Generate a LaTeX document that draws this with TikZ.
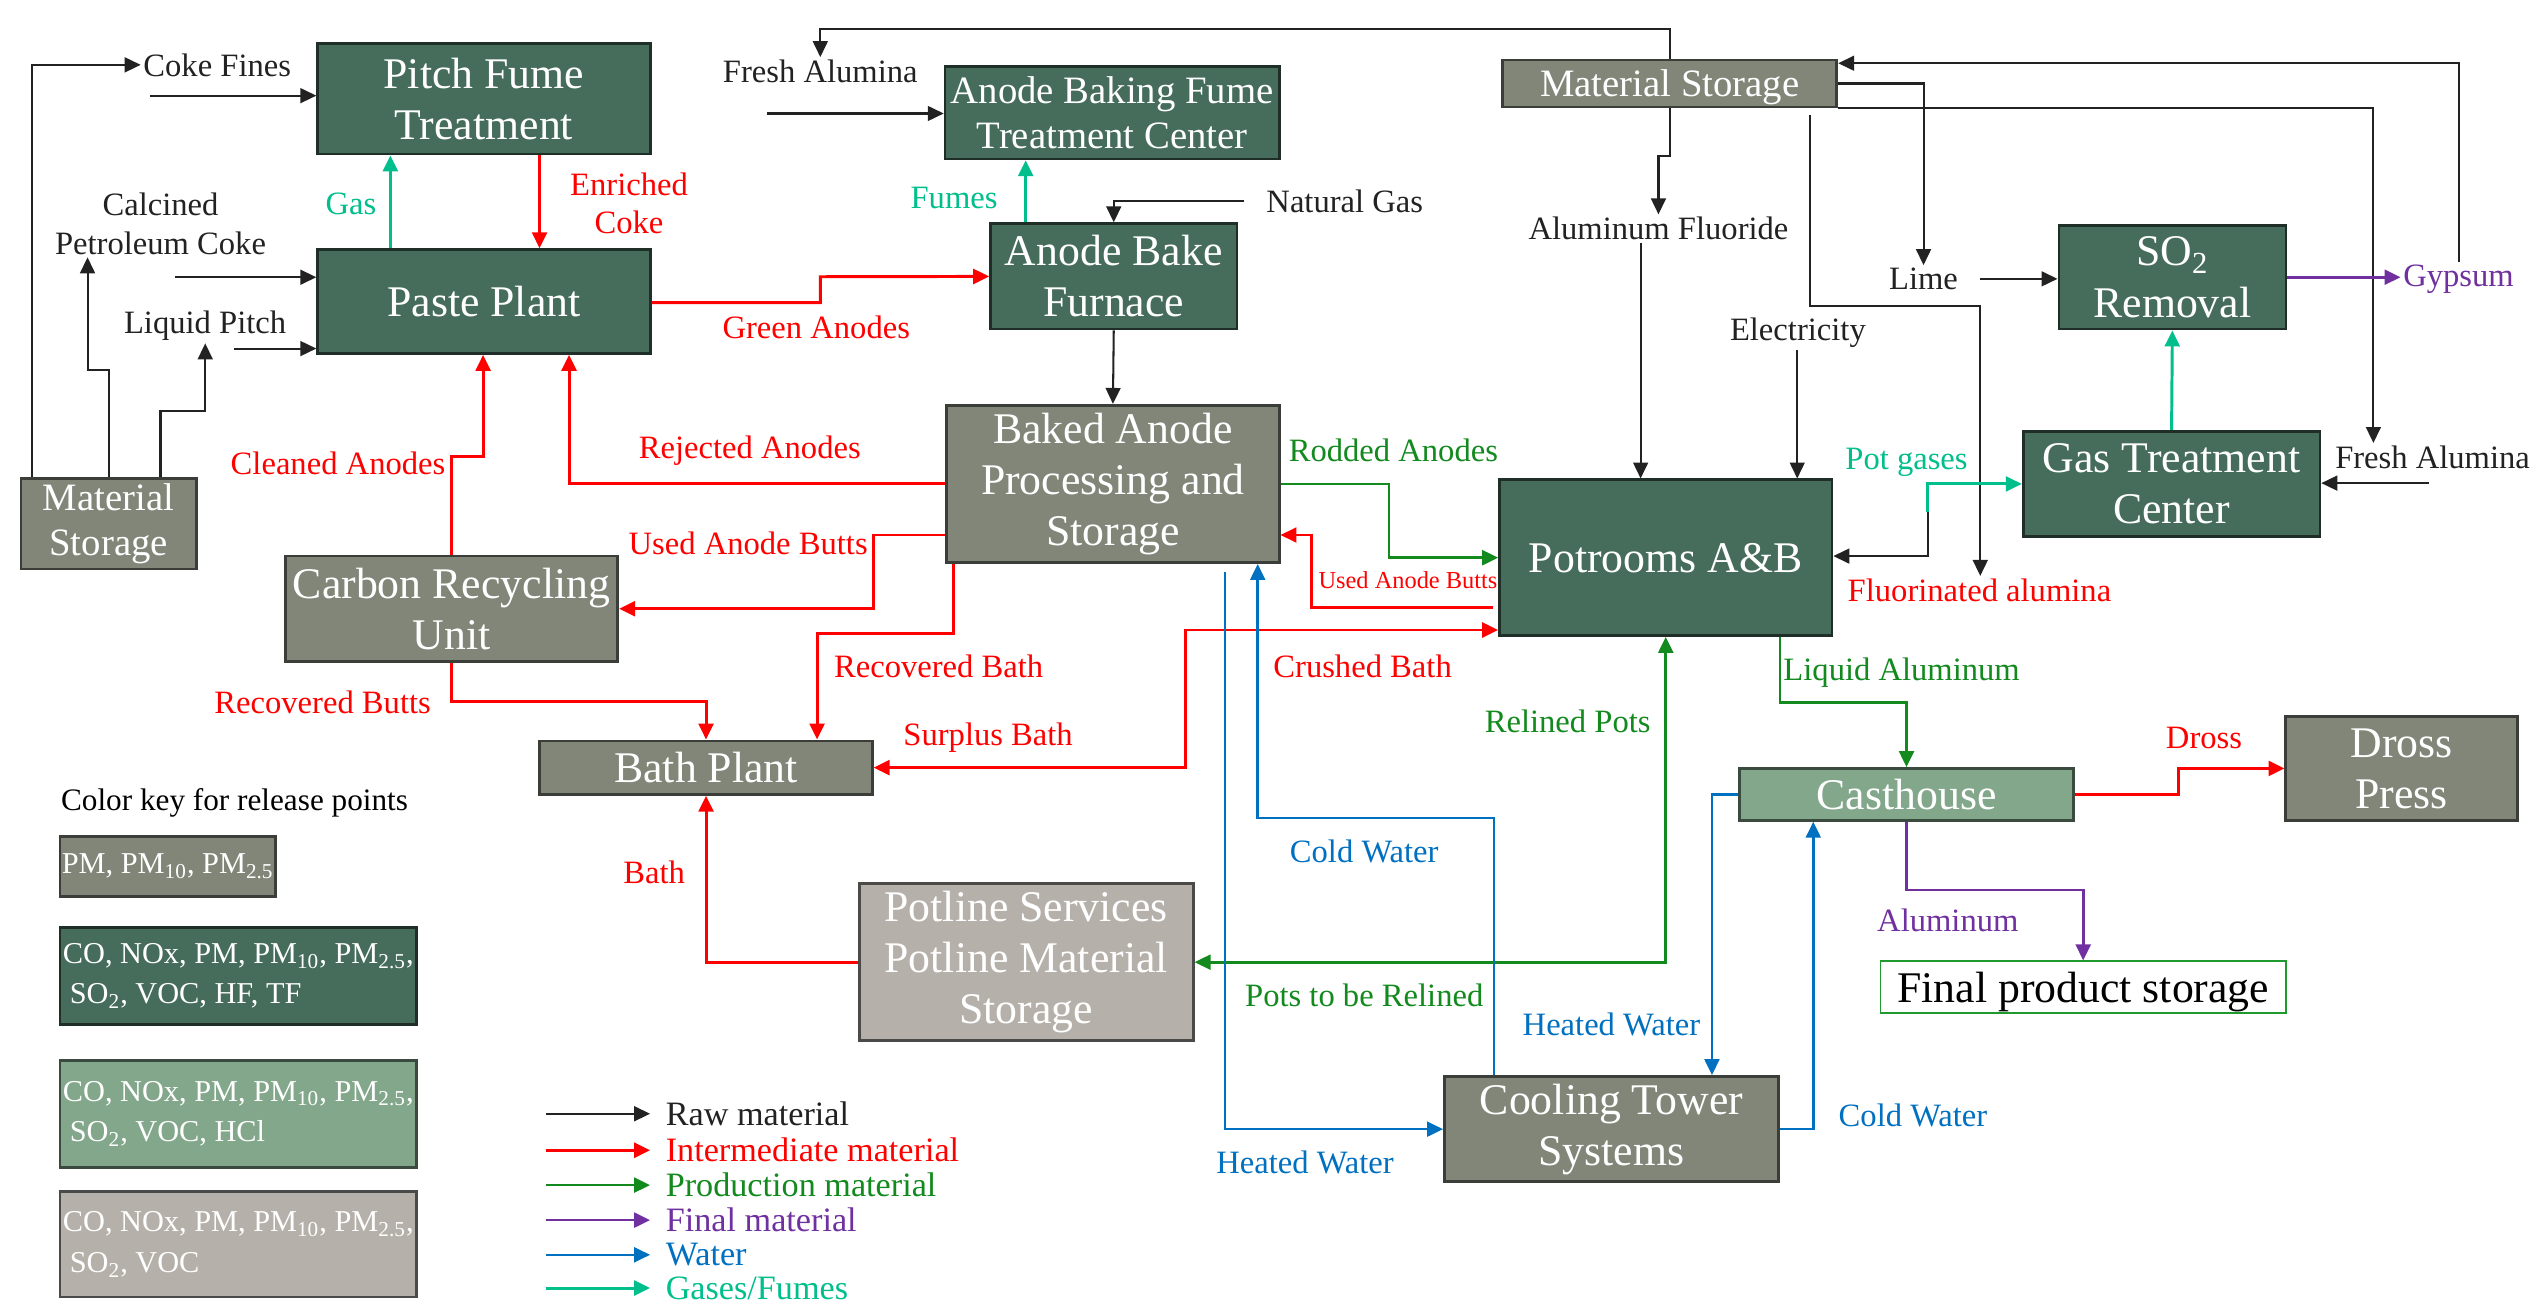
\documentclass[tikz,border=0pt]{standalone}
\usepackage{fontspec}
\setmainfont{Liberation Serif}
\usetikzlibrary{arrows.meta,calc}
\definecolor{dgf}{HTML}{466D5C}
\definecolor{dgb}{HTML}{1F2F27}
\definecolor{grf}{HTML}{828679}
\definecolor{grb}{HTML}{3A3D38}
\definecolor{mgf}{HTML}{83A78B}
\definecolor{mgb}{HTML}{3A4A3E}
\definecolor{lgf}{HTML}{B5B1AA}
\definecolor{lgb}{HTML}{4A4A48}
\definecolor{cred}{HTML}{FF0000}
\definecolor{cgreen}{HTML}{128A1E}
\definecolor{cpurple}{HTML}{7030A0}
\definecolor{cblue}{HTML}{0070C0}
\definecolor{cteal}{HTML}{00BF8C}
\definecolor{craw}{HTML}{222222}
\definecolor{fpsb}{HTML}{1E9A2E}
\newcommand\myBig{\fontsize{19.2pt}{22.4pt}\selectfont}
\newcommand\myMid{\fontsize{17pt}{19.6pt}\selectfont}
\newcommand\myLbl{\fontsize{14.3pt}{17pt}\selectfont}
\newcommand\mySml{\fontsize{10.7pt}{13pt}\selectfont}
\newcommand\myKey{\fontsize{13.3pt}{17.8pt}\selectfont}
\newcommand\myLeg{\fontsize{15pt}{18pt}\selectfont}
\begin{document}
\begin{tikzpicture}[x=0.025cm,y=-0.025cm,
  bx/.style={line width=1.2pt, inner sep=0pt, align=center, text=white, font=\myBig},
  dg/.style={bx, draw=dgb, fill=dgf},
  gr/.style={bx, draw=grb, fill=grf},
  mg/.style={bx, draw=mgb, fill=mgf},
  lg/.style={bx, draw=lgb, fill=lgf},
  lbl/.style={inner sep=1pt, align=center, font=\myLbl},
  arrowhd/.style={-{Triangle[length=7pt,width=6.5pt]}},
  twohd/.style={{Triangle[length=7pt,width=6.5pt]}-{Triangle[length=7pt,width=6.5pt]}},
  cRaw/.style={arrowhd, draw=craw, line width=0.9pt},
  cInt/.style={arrowhd, draw=cred, line width=1.3pt},
  cProd/.style={arrowhd, draw=cgreen, line width=1.2pt},
  cFin/.style={arrowhd, draw=cpurple, line width=1.2pt},
  cWat/.style={arrowhd, draw=cblue, line width=1.1pt},
  cGas/.style={arrowhd, draw=cteal, line width=1.3pt}
]
\useasboundingbox (0,0) rectangle (1568,804);
\fill[white] (0,0) rectangle (1568,804);

% ---------- boxes ----------
\node[dg, minimum width=5.125cm, minimum height=1.7cm] (pft) at (298.5,61) {Pitch Fume\\Treatment};
\node[dg, minimum width=5.125cm, minimum height=1.6cm] (paste) at (298.5,186) {Paste Plant};
\node[dg, font=\myMid, minimum width=5.15cm, minimum height=1.425cm] (abf) at (686,69.5) {Anode Baking Fume\\Treatment Center};
\node[dg, minimum width=3.8cm, minimum height=1.625cm] (abfur) at (687,170.5) {Anode Bake\\Furnace};
\node[gr, minimum width=5.125cm, minimum height=2.425cm] (bap) at (686.5,298.5) {Baked Anode\\Processing and\\Storage};
\node[dg, minimum width=5.125cm, minimum height=2.4cm] (pot) at (1027.5,344) {Potrooms A\&B};
\node[gr, font=\myMid, text depth=0pt, minimum width=5.15cm, minimum height=0.725cm] (mst) at (1030,51.5) {Material Storage};
\node[dg, minimum width=3.5cm, minimum height=1.6cm] (so2) at (1340,171) {SO\textsubscript{2}\\Removal};
\node[dg, minimum width=4.575cm, minimum height=1.625cm] (gtc) at (1339.5,298.5) {Gas Treatment\\Center};
\node[gr, font=\myMid, minimum width=2.7cm, minimum height=1.4cm] (msl) at (67,323) {Material\\Storage};
\node[gr, minimum width=5.125cm, minimum height=1.625cm] (cru) at (278.5,375.5) {Carbon Recycling\\Unit};
\node[gr, minimum width=5.125cm, minimum height=0.825cm] (bath) at (435.5,473.5) {Bath Plant};
\node[lg, minimum width=5.15cm, minimum height=2.425cm] (pls) at (633,593.5) {Potline Services\\Potline Material\\Storage};
\node[gr, minimum width=5.15cm, minimum height=1.625cm] (ct) at (994,696.5) {Cooling Tower\\Systems};
\node[mg, minimum width=5.15cm, minimum height=0.8cm] (cast) at (1176,490) {Casthouse};
\node[gr, minimum width=3.575cm, minimum height=1.6cm] (dross) at (1481.5,474) {Dross\\Press};
\node[bx, draw=fpsb, fill=white, text=black, text depth=0pt, line width=0.8pt, minimum width=6.25cm, minimum height=0.8cm] (fps) at (1285,609) {Final product storage};

% ---------- colour key ----------
\node[lbl, anchor=west, font=\fontsize{13.7pt}{16pt}\selectfont] (ckey) at (36,495) {Color key for release points};
\node[gr, font=\myKey, minimum width=3.325cm, minimum height=0.925cm] (key1) at (103.5,534.5) {PM, PM\textsubscript{10}, PM\textsubscript{2.5}};
\node[dg, font=\myKey, align=left, minimum width=5.5cm, minimum height=1.5cm] (key2) at (147,602) {CO, NOx, PM, PM\textsubscript{10}, PM\textsubscript{2.5},\\\hspace*{3pt}SO\textsubscript{2}, VOC, HF, TF};
\node[mg, font=\myKey, align=left, minimum width=5.5cm, minimum height=1.65cm] (key3) at (147,687) {CO, NOx, PM, PM\textsubscript{10}, PM\textsubscript{2.5},\\\hspace*{3pt}SO\textsubscript{2}, VOC, HCl};
\node[lg, font=\myKey, align=left, minimum width=5.5cm, minimum height=1.625cm] (key4) at (147,767.5) {CO, NOx, PM, PM\textsubscript{10}, PM\textsubscript{2.5},\\\hspace*{3pt}SO\textsubscript{2}, VOC};

% ---------- arrow legend ----------
\node[lbl, anchor=west, font=\myLeg, text=craw] (lg1) at (409,687) {Raw material};
\node[lbl, anchor=west, font=\myLeg, text=cred] (lg2) at (409,709.5) {Intermediate material};
\node[lbl, anchor=west, font=\myLeg, text=cgreen] (lg3) at (409,731) {Production material};
\node[lbl, anchor=west, font=\myLeg, text=cpurple] (lg4) at (409,752.6) {Final material};
\node[lbl, anchor=west, font=\myLeg, text=cblue] (lg5) at (409,774) {Water};
\node[lbl, anchor=west, font=\myLeg, text=cteal] (lg6) at (409,794.5) {Gases/Fumes};
\draw[cRaw]  ($(lg1.west)+(-72,0)$) -- ($(lg1.west)+(-8,0)$);
\draw[cInt]  ($(lg2.west)+(-72,0)$) -- ($(lg2.west)+(-8,0)$);
\draw[cProd] ($(lg3.west)+(-72,0)$) -- ($(lg3.west)+(-8,0)$);
\draw[cFin]  ($(lg4.west)+(-72,0)$) -- ($(lg4.west)+(-8,0)$);
\draw[cWat]  ($(lg5.west)+(-72,0)$) -- ($(lg5.west)+(-8,0)$);
\draw[cGas]  ($(lg6.west)+(-72,0)$) -- ($(lg6.west)+(-8,0)$);

% ---------- labels ----------
\node[lbl, text=craw] (cokef) at (134,40) {Coke Fines};
\node[lbl, text=craw] (cpc) at (99,138) {Calcined\\Petroleum Coke};
\node[lbl, text=craw] (lp) at (126.5,201) {Liquid Pitch};
\node[lbl, text=cteal] (gasl) at (216.5,126) {Gas};
\node[lbl, text=cred] (enr) at (388,125.5) {Enriched\\Coke};
\node[lbl, text=cred] (grn) at (503.5,202) {Green Anodes};
\node[lbl, text=craw] (fa1) at (506,44) {Fresh Alumina};
\node[lbl, text=cteal] (fum) at (588.5,122) {Fumes};
\node[lbl, text=craw] (ng) at (829.5,124) {Natural Gas};
\node[lbl, text=craw] (alf) at (1023,141) {Aluminum Fluoride};
\node[lbl, text=craw] (elec) at (1109,205) {Electricity};
\node[lbl, text=craw] (lime) at (1186.5,172) {Lime};
\node[lbl, text=cpurple] (gyp) at (1516.5,172) {Gypsum};
\node[lbl, text=craw] (fa2) at (1500.5,282) {Fresh Alumina};
\node[lbl, text=cteal] (potg) at (1176,285) {Pot gases};
\node[lbl, text=cred] (fluor) at (1221,364) {Fluorinated alumina};
\node[lbl, text=cred] (rej) at (462.5,278) {Rejected Anodes};
\node[lbl, text=cgreen] (rod) at (859.5,278) {Rodded Anodes};
\node[lbl, text=cred] (cln) at (208.5,286) {Cleaned Anodes};
\node[lbl, text=cred] (uab) at (461.5,335) {Used Anode Butts};
\node[lbl, text=cred, font=\mySml] (uab2) at (868.5,358) {Used Anode Butts};
\node[lbl, text=cred] (rbath) at (579,411) {Recovered Bath};
\node[lbl, text=cred] (cbath) at (840.5,411) {Crushed Bath};
\node[lbl, text=cred] (rbutts) at (199,433) {Recovered Butts};
\node[lbl, text=cred] (sbath) at (609.5,455) {Surplus Bath};
\node[lbl, text=cgreen] (relp) at (967,445) {Relined Pots};
\node[lbl, text=cgreen] (liqa) at (1173,415) {Liquid Aluminum};
\node[lbl, text=cred] (drossl) at (1359.5,455) {Dross};
\node[lbl, text=cblue] (cw1) at (841.5,525) {Cold Water};
\node[lbl, text=cred] (bathl) at (403.5,538) {Bath};
\node[lbl, text=cpurple] (alum) at (1201.5,568) {Aluminum};
\node[lbl, text=cgreen] (ptbr) at (841.5,614) {Pots to be Relined};
\node[lbl, text=cblue] (hw1) at (994,632) {Heated Water};
\node[lbl, text=cblue] (cw2) at (1180,688) {Cold Water};
\node[lbl, text=cblue] (hw2) at (805,717) {Heated Water};

% free ends
\coordinate (cfs) at (92.5,59);
\coordinate (cps) at (107.8,171);
\coordinate (lps) at (144.4,215);
\coordinate (fas) at (473,70);
\coordinate (fa2s) at (1498.5,298);
\coordinate (pgs) at (1189,316);
\coordinate (gtcj) at (1189,298.5);

% ---------- raw material (black) ----------
\draw[cRaw] (msl.north -| 20,0) |- (cokef.west);
\draw[cRaw] (cfs) -- (pft.west |- cfs);
\draw[cRaw] (msl.north -| 67,0) |- (54,228) -- (cpc.south -| 54,0);
\draw[cRaw] (cps) -- (paste.west |- cps);
\draw[cRaw] (msl.north -| 99,0) |- (126.6,253.6) -- (lp.south -| 126.6,0);
\draw[cRaw] (lps) -- (paste.west |- lps);
\draw[cRaw] (mst.north) |- (506,18) -- (fa1.north -| 506,0);
\draw[cRaw] (fas) -- (abf.west |- fas);
\draw[cRaw] ($(ng.west)+(-12,0)$) -| (abfur.north);
\draw[cRaw] (abfur.south) -- (bap.north);
\draw[cRaw] (mst.south) |- (1023,96) -- (alf.north -| 1023,0);
\draw[cRaw] (alf.south -| 1012,0) -- (pot.north -| 1012,0);
\draw[cRaw] (elec.south -| 1108.6,0) -- (pot.north -| 1108.6,0);
\draw[cRaw] (mst.east) -| (lime.north);
\draw[cRaw] ($(lime.east)+(12,0)$) -- (so2.west |- lime.east);
\draw[cRaw] (mst.south east) -| (fa2.north -| 1464,0);
\draw[cRaw] (fa2s) -- (gtc.east |- fa2s);
\draw[cRaw] (gyp.north) |- (mst.east |- 0,39);
\draw[cRaw] ($(mst.south -| 1116.7,0)+(0,4)$) |- (1221.5,189) -- (fluor.north -| 1221.5,0);
\draw[cRaw] (gtcj) |- (pot.east |- 0,343);

% ---------- intermediate (red) ----------
\draw[cInt] (pft.south -| 332.8,0) -- (paste.north -| 332.8,0);
\draw[cInt] (paste.east |- 0,186.7) -| (506,170.7) -- (abfur.west);
\draw[cInt] (bap.west) -| (paste.south -| 351,0);
\draw[cInt] (cru.north) |- (298,281.3) -- (paste.south -| 298,0);
\draw[cInt] (bap.west |- 0,330) -| (539,375.5) -- (cru.east);
\draw[cInt] (bap.south -| 588,0) |- (504,390.6) -- (bath.north -| 504,0);
\draw[cInt] (cru.south) |- (435.5,432.8) -- (bath.north);
\draw[cInt, twohd] (bath.east) -| (731,388.6) -- (pot.west |- 0,388.6);
\draw[cInt] ($(pot.west |- 0,374.5)+(-3,0)$) -| (809,330) -- (bap.east |- 0,330);
\draw[cInt] (pls.west) -| (bath.south);
\draw[cInt] (cast.east) -| (1344,474) -- (dross.west);

% ---------- production (green) ----------
\draw[cProd] (bap.east) -| (856.8,344) -- (pot.west);
\draw[cProd] (pot.south -| 1098,0) |- (1176,433.5) -- (cast.north);
\draw[cProd, twohd] (pls.east) -| (pot.south);

% ---------- final (purple) ----------
\draw[cFin] (so2.east) -- (gyp.west |- so2.east);
\draw[cFin] (cast.south) |- (1285,549) -- (fps.north);

% ---------- water (blue) ----------
\draw[cWat] (ct.north -| 921.6,0) |- (775.8,504.6) -- (bap.south -| 775.8,0);
\draw[cWat] ($(bap.south -| 755.5,0)+(0,5)$) |- (ct.west);
\draw[cWat] (cast.west) -| (ct.north -| 1056,0);
\draw[cWat] (ct.east) -| (cast.south -| 1118.5,0);

% ---------- gases (teal) ----------
\draw[cGas] (paste.north -| 240.8,0) -- (pft.south -| 240.8,0);
\draw[cGas] (abfur.north -| 632.7,0) -- (abf.south -| 632.7,0);
\draw[cGas] (gtc.north) -- (so2.south);
\draw[cGas] (pgs) |- (gtc.west);
\end{tikzpicture}
\end{document}
